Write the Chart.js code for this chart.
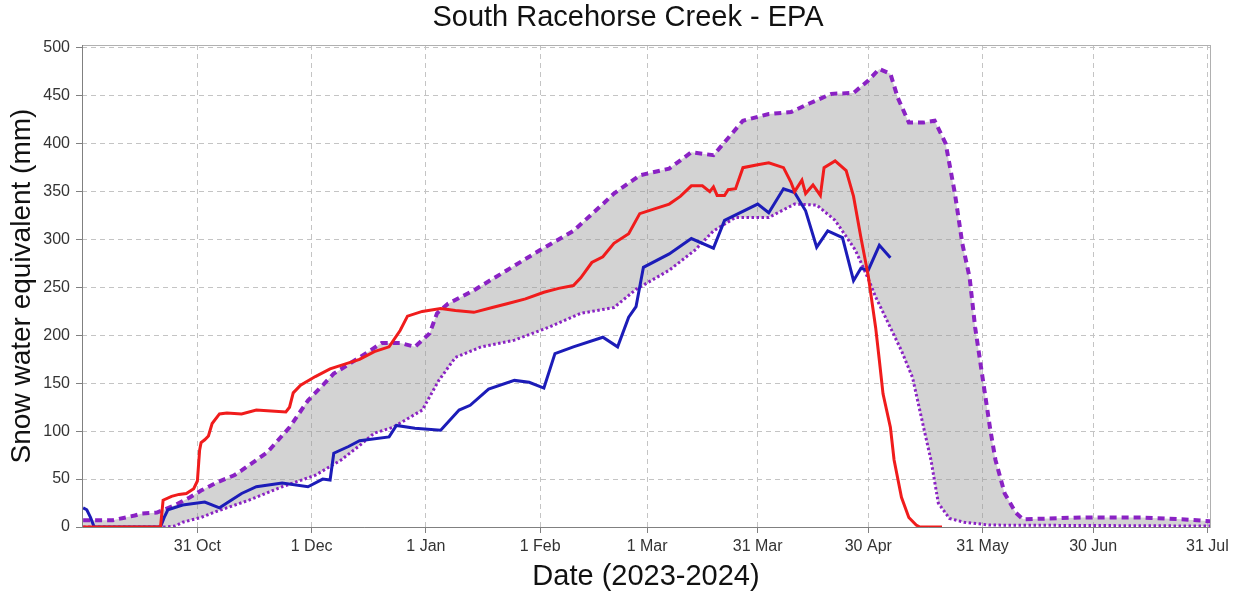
<!DOCTYPE html>
<html>
<head>
<meta charset="utf-8">
<script src="https://cdn.jsdelivr.net/npm/chart.js@4/dist/chart.umd.min.js"></script>
<style>
  html, body { margin: 0; padding: 0; background: #fff; }
  #wrap { width: 1236px; height: 594px; position: relative; }
</style>
</head>
<body>
<div id="wrap"><canvas id="sweChart"></canvas></div>
<script>
// days counted from 1 Oct 2023 (= day 0)
const xTickDays = [30, 61, 92, 123, 152, 182, 212, 243, 273, 304];
const xTickLabels = ['31 Oct', '1 Dec', '1 Jan', '1 Feb', '1 Mar', '31 Mar', '30 Apr', '31 May', '30 Jun', '31 Jul'];
const yTicks = [0, 50, 100, 150, 200, 250, 300, 350, 400, 450, 500];
const chartTitle = 'South Racehorse Creek - EPA';

// red line
const redDays = [-1, 20, 20.7, 23, 25, 27, 29, 30, 30.6, 31, 32, 33, 34, 36, 38, 42, 46, 50, 54, 55,
  56, 58, 62, 66, 70, 74, 78, 82, 85, 87, 91, 96, 100, 105, 110, 114, 119, 124, 128, 132,
  134, 137, 140, 143, 147, 150, 154, 158, 161, 164, 167, 169, 170, 171, 173, 174, 176, 178, 182, 185,
  189, 191, 192, 194, 195, 197, 199, 200, 203, 206, 208, 210, 212, 214, 215, 216, 218, 219, 221, 223,
  225, 226, 232];
const redSwe = [0, 0, 28, 32, 34, 35, 40, 48, 80, 88, 91, 95, 108, 118, 119, 118, 122, 121, 120, 125,
  140, 148, 157, 165, 170, 175, 183, 188, 205, 220, 225, 228, 226, 224, 229, 233, 238, 245, 249, 252,
  260, 276, 282, 296, 306, 327, 332, 337, 345, 356, 356, 350, 355, 346, 346, 352, 353, 375, 378, 380,
  375, 360, 350, 362, 348, 357, 346, 375, 382, 372, 345, 302, 262, 208, 174, 139, 104, 70, 31, 10,
  2, 0, 0];

// blue line
const blueDays = [-1, 0, 1, 2, 20, 21, 22, 26, 32, 36, 38, 42, 46, 53, 60, 64, 66, 67, 71, 74,
  82, 84, 89, 96, 101, 104, 109, 116, 120, 124, 127, 132, 140, 144, 147, 149, 151, 158, 164, 170,
  173, 182, 185, 189, 192, 195, 198, 201, 205, 208, 210, 212, 215, 218];
const blueSwe = [20, 18, 10, 0, 0, 10, 18, 23, 26, 20, 25, 35, 42, 46, 42, 50, 49, 77, 84, 90,
  94, 106, 103, 101, 122, 127, 144, 153, 151, 145, 181, 188, 198, 188, 219, 230, 271, 285, 301, 291,
  320, 337, 328, 353, 349, 330, 292, 309, 302, 257, 270, 268, 294, 281];

// dashed upper envelope
const upperDays = [-1, 1, 7, 13, 15, 19, 24, 28, 31, 35, 40, 42, 49, 55, 60, 67, 74, 80, 85, 89,
  93, 95, 98, 105, 114, 123, 132, 140, 143, 150, 158, 164, 170, 174, 178, 185, 191, 196, 202, 208,
  212, 215, 218, 220, 223, 227, 230, 233, 235.5, 237.5, 239.5, 241, 243, 245, 246.5, 249, 252, 254, 270, 286,
  297, 305];
const upperSwe = [7, 7, 7, 12, 14, 15, 23, 31, 38, 46, 54, 59, 78, 104, 132, 160, 177, 192, 192, 188,
  202, 223, 233, 247, 268, 289, 309, 337, 348, 367, 374, 391, 388, 406, 424, 431, 433, 442, 452, 453,
  466, 478, 473, 448, 422, 422, 424, 400, 348, 296, 260, 208, 156, 104, 70, 35, 15, 8, 10, 10,
  8, 6];

// dotted lower envelope
const lowerDays = [-1, 21, 24, 26, 31, 35, 44, 53, 62, 69, 74, 78, 83, 91, 95.5, 100, 107, 116, 125, 134,
  143, 149, 158, 165, 170, 176, 185, 192, 198, 203, 208.5, 212, 214, 218, 221, 224, 227, 229, 231, 234,
  238, 245, 305];
const lowerSwe = [0, 0, 1, 5, 10, 16, 28, 42, 54, 70, 85, 98, 104, 122, 153, 177, 188, 195, 208, 223,
  229, 248, 268, 289, 309, 323, 323, 337, 336, 320, 289, 259, 240, 208, 184, 156, 104, 70, 25, 9,
  5, 2, 1];

const pts = (days, vals) => days.map((d, i) => ({ x: d, y: vals[i] }));

Chart.defaults.font.family = '"Liberation Sans", Arial, sans-serif';
Chart.defaults.color = '#333';

// plot frame + heading (heading centred a bit right of the canvas middle, like the original)
const frame = {
  id: 'frame',
  afterDraw(chart) {
    const { ctx, chartArea: a } = chart;
    ctx.save();
    ctx.strokeStyle = '#b0b0b0';
    ctx.lineWidth = 1;
    ctx.strokeRect(a.left + 0.5, a.top + 0.5, a.right - a.left, a.bottom - a.top);
    ctx.strokeStyle = '#808080';
    ctx.beginPath();
    ctx.moveTo(a.left + 0.5, a.top);
    ctx.lineTo(a.left + 0.5, a.bottom + 0.5);
    ctx.lineTo(a.right, a.bottom + 0.5);
    ctx.stroke();

    ctx.fillStyle = '#111';
    ctx.font = '29px "Liberation Sans", Arial, sans-serif';
    ctx.textAlign = 'center';
    ctx.textBaseline = 'middle';
    ctx.fillText(chartTitle, 628, 18);
    ctx.restore();
  }
};

const config = {
  type: 'line',
  data: {
    datasets: [
      {
        label: 'upper',
        data: pts(upperDays, upperSwe),
        borderColor: '#8a22c4',
        borderWidth: 4,
        borderDash: [7, 5],
        backgroundColor: 'rgba(150,150,150,0.42)',
        fill: 1,
        order: 3
      },
      {
        label: 'lower',
        data: pts(lowerDays, lowerSwe),
        borderColor: '#8a22c4',
        borderWidth: 3,
        borderDash: [2.5, 2.5],
        fill: false,
        order: 2
      },
      {
        label: 'blue',
        data: pts(blueDays, blueSwe),
        borderColor: '#1c1cb8',
        borderWidth: 3,
        fill: false,
        order: 1
      },
      {
        label: 'red',
        data: pts(redDays, redSwe),
        borderColor: '#f01c1c',
        borderWidth: 3,
        fill: false,
        order: 0
      }
    ]
  },
  options: {
    responsive: true,
    maintainAspectRatio: false,
    animation: false,
    elements: { point: { radius: 0 }, line: { tension: 0 } },
    layout: { padding: { left: 0, right: 26, top: 45, bottom: 0 } },
    scales: {
      x: {
        type: 'linear',
        min: -1.3,
        max: 304.7,
        afterBuildTicks: s => { s.ticks = xTickDays.map(v => ({ value: v })); },
        afterFit: s => { s.height = 67; },
        ticks: {
          autoSkip: false,
          maxRotation: 0,
          padding: 4,
          font: { size: 16 },
          color: '#333',
          callback: v => xTickLabels[xTickDays.indexOf(v)]
        },
        grid: { color: '#c4c4c4', tickLength: 6, tickColor: '#808080', tickBorderDash: [] },
        border: { display: false, dash: [5, 4] },
        title: {
          display: true,
          text: 'Date (2023-2024)',
          font: { size: 29 },
          color: '#111',
          padding: { top: 0, bottom: 0 }
        }
      },
      y: {
        min: 0,
        max: 503,
        afterBuildTicks: s => { s.ticks = yTicks.map(v => ({ value: v })); },
        afterFit: s => { s.width = 82; },
        ticks: { padding: 6, font: { size: 16 }, color: '#333' },
        grid: { color: '#c4c4c4', tickLength: 6, tickColor: '#808080', tickBorderDash: [] },
        border: { display: false, dash: [5, 4] },
        title: {
          display: true,
          text: 'Snow water equivalent (mm)',
          font: { size: 28 },
          color: '#111',
          padding: { top: 5, bottom: 0 }
        }
      }
    },
    plugins: {
      legend: { display: false },
      tooltip: { enabled: false },
      filler: { drawTime: 'beforeDatasetsDraw' },
      title: { display: false }
    }
  },
  plugins: [frame]
};

new Chart(document.getElementById('sweChart'), config);
</script>
</body>
</html>
